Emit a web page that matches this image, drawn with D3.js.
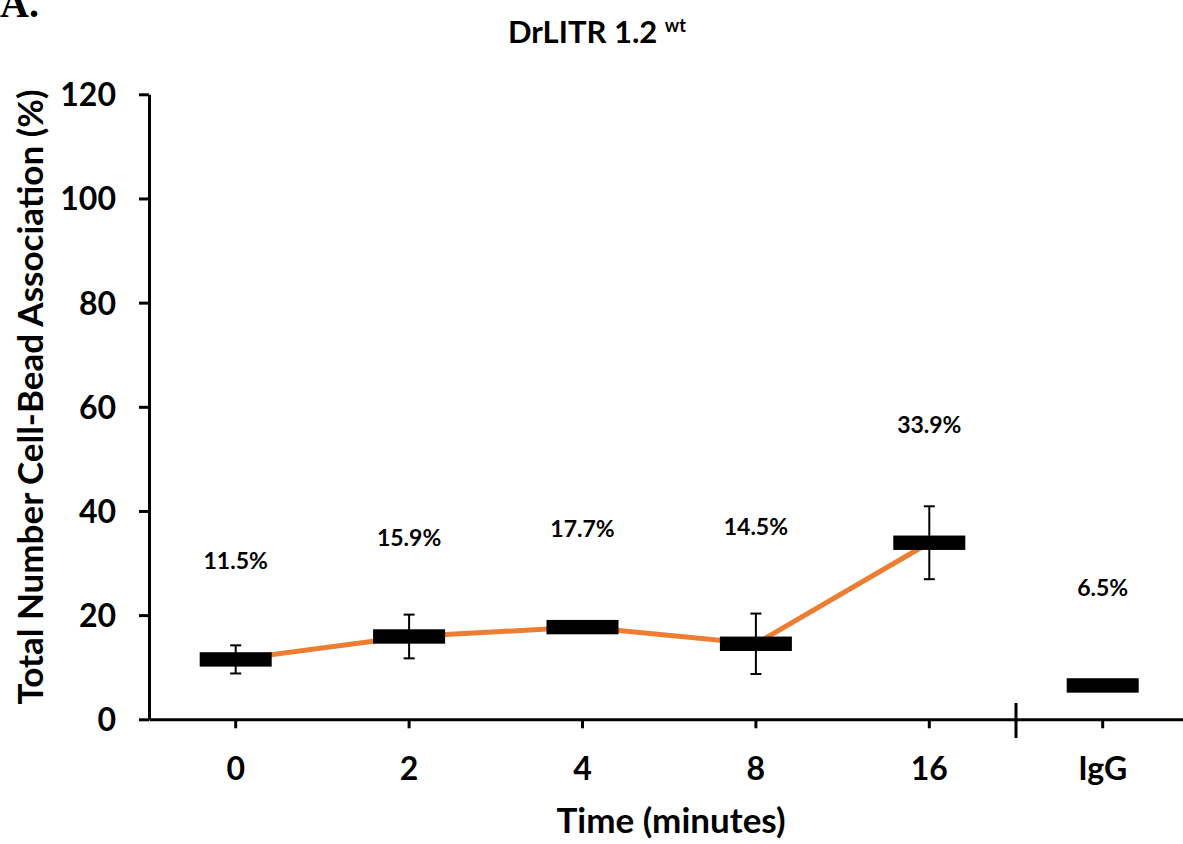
<!DOCTYPE html>
<html>
<head>
<meta charset="utf-8">
<script src="https://cdn.jsdelivr.net/npm/d3@7"></script>
<style>
  html, body { margin: 0; padding: 0; background: #fff; }
  svg { display: block; }
  text { font-family: Lato, "Open Sans", sans-serif; font-weight: bold; fill: #000; }
</style>
</head>
<body>
<svg id="chart" width="1183" height="844"></svg>
<script>
// Time points (minutes) plus the IgG control
const categories = ["0", "2", "4", "8", "16", "IgG"];
// Mean cell-bead association (%) and standard error per group
const means = [11.5, 15.9, 17.7, 14.5, 33.9, 6.5];
const errors = [2.7, 4.2, 0.8, 5.8, 7.0, 0.6];
// Value labels printed above each group
const valueLabels = ["11.5%", "15.9%", "17.7%", "14.5%", "33.9%", "6.5%"];
// Y axis tick values
const yTicks = [0, 20, 40, 60, 80, 100, 120];
// Groups joined by the trend line (the time course only)
const timeCourse = ["0", "2", "4", "8", "16"];

const svg = d3.select("#chart");

const x = d3.scaleBand().domain(categories).range([149, 1189.4]).padding(0);
const y = d3.scaleLinear().domain([0, 120]).range([719.3, 94.3]);
const cx = c => x(c) + x.bandwidth() / 2;

// Panel letter
svg.append("text")
  .attr("x", 0).attr("y", 17)
  .style("font-family", "'Liberation Serif', 'DejaVu Serif', serif")
  .style("font-size", "40px")
  .text("A.");

// Title with superscript
const title = svg.append("text")
  .attr("x", 597).attr("y", 43)
  .attr("text-anchor", "middle")
  .style("font-size", "31px");
title.append("tspan").text("DrLITR 1.2 ");
title.append("tspan").attr("dy", -11).style("font-size", "18px").text("wt");

// Y axis
const yAxis = svg.append("g")
  .attr("transform", "translate(149,0)")
  .call(d3.axisLeft(y).tickValues(yTicks).tickSize(10).tickSizeOuter(0).tickPadding(23));
yAxis.select(".domain").attr("stroke", "#000").attr("stroke-width", 3);
yAxis.selectAll(".tick line").attr("stroke", "#000").attr("stroke-width", 3);
yAxis.selectAll(".tick text")
  .style("font-family", "Lato, sans-serif").style("font-size", "32px").style("font-weight", "bold")
  .attr("dy", "0.36em");

// X axis
const xAxis = svg.append("g")
  .attr("transform", "translate(0,719.3)")
  .call(d3.axisBottom(x).tickSize(9).tickSizeOuter(0));
xAxis.select(".domain").attr("stroke", "#000").attr("stroke-width", 3);
xAxis.selectAll(".tick line").attr("stroke", "#000").attr("stroke-width", 3);
xAxis.selectAll(".tick text")
  .style("font-family", "Lato, sans-serif").style("font-size", "32px").style("font-weight", "bold")
  .attr("y", 61).attr("dy", 0);

// Break mark separating the control from the time course
svg.append("line")
  .attr("x1", x("IgG")).attr("x2", x("IgG"))
  .attr("y1", 703).attr("y2", 738)
  .attr("stroke", "#000").attr("stroke-width", 3);

// Axis titles
svg.append("text")
  .attr("x", 671).attr("y", 833)
  .attr("text-anchor", "middle")
  .style("font-size", "35px")
  .text("Time (minutes)");

svg.append("text")
  .attr("transform", "translate(43,397) rotate(-90)")
  .attr("text-anchor", "middle")
  .style("font-size", "35px")
  .text("Total Number Cell-Bead Association (%)");

// Trend line across the time course
const tcIdx = timeCourse.map(c => categories.indexOf(c));
svg.append("path")
  .datum(tcIdx)
  .attr("fill", "none")
  .attr("stroke", "#ED7D31")
  .attr("stroke-width", 5)
  .attr("d", d3.line().x(i => cx(categories[i])).y(i => y(means[i])));

// Error bars
const eb = svg.append("g").attr("stroke", "#000").attr("stroke-width", 2);
categories.forEach((c, i) => {
  const top = y(means[i] + errors[i]), bot = y(means[i] - errors[i]);
  eb.append("line").attr("x1", cx(c)).attr("x2", cx(c)).attr("y1", top).attr("y2", bot);
  eb.append("line").attr("x1", cx(c) - 5.5).attr("x2", cx(c) + 5.5).attr("y1", top).attr("y2", top);
  eb.append("line").attr("x1", cx(c) - 5.5).attr("x2", cx(c) + 5.5).attr("y1", bot).attr("y2", bot);
});

// Mean markers
svg.append("g").selectAll("rect")
  .data(categories)
  .join("rect")
  .attr("x", c => cx(c) - 36)
  .attr("width", 72)
  .attr("y", (c, i) => y(means[i]) - 7.2)
  .attr("height", 14.4)
  .attr("fill", "#000");

// Value labels; the two most spread groups sit a little higher
const lift = [90, 90, 90, 109, 110, 89];
svg.append("g").selectAll("text")
  .data(categories)
  .join("text")
  .attr("x", c => cx(c))
  .attr("y", (c, i) => y(means[i]) - lift[i])
  .attr("text-anchor", "middle")
  .style("font-size", "23px")
  .text((c, i) => valueLabels[i]);
</script>
</body>
</html>
